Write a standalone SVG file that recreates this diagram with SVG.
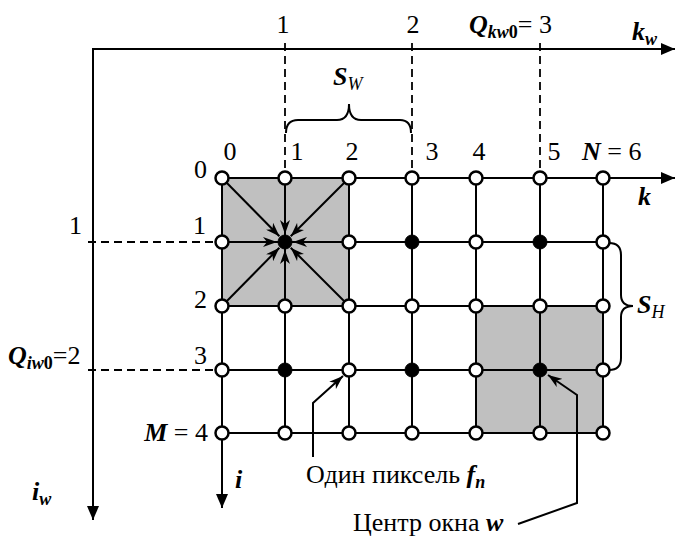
<svg xmlns="http://www.w3.org/2000/svg" width="677" height="538" viewBox="0 0 677 538">
<style>
text{font-family:"Liberation Serif","Times New Roman",serif;font-size:26px;fill:#000}
.bi{font-weight:bold;font-style:italic}
.it{font-style:italic}
.b{font-weight:bold}
.sub{font-size:18px}
.ln{stroke:#000;stroke-width:2;fill:none}
.ds{stroke:#000;stroke-width:1.8;fill:none;stroke-dasharray:8,5}
.o{fill:#fff;stroke:#000;stroke-width:2.5}
.f{fill:#000;stroke:#000;stroke-width:1}
.sh{fill:#c0c0c0;stroke:none}
</style>
<defs>
<marker id="ah" viewBox="0 0 14 10" refX="14" refY="5" markerWidth="14" markerHeight="10" orient="auto" markerUnits="userSpaceOnUse"><path d="M0,0 L14,5 L0,10 L4,5 z" fill="#000"/></marker>
<marker id="ax" viewBox="0 0 14 12" refX="14" refY="6" markerWidth="14" markerHeight="12" orient="auto" markerUnits="userSpaceOnUse"><path d="M0,0 L14,6 L0,12 z" fill="#000"/></marker>
</defs>
<g id="shading">
<rect class="sh" x="222" y="178" width="127" height="128"/>
<rect class="sh" x="476" y="306" width="127" height="127"/>
</g>
<g id="connectors">
<path class="ln" d="M93,49 L675,49" marker-end="url(#ax)"/>
<path class="ln" d="M93,48 L93,520" marker-end="url(#ax)"/>
<path class="ds" d="M285,43 L285,178 M412,43 L412,178 M540,43 L540,178"/>
<path class="ds" d="M88,242 L222,242 M88,370 L222,370"/>
<path class="ln" d="M222,178 L675,178" marker-end="url(#ax)"/>
<path class="ln" d="M222,178 L222,508" marker-end="url(#ax)"/>
<path class="ln" d="M222,242 H603 M222,306 H603 M222,370 H603 M222,433 H603"/>
<path class="ln" d="M285,178 V433 M349,178 V433 M412,178 V433 M476,178 V433 M540,178 V433 M603,178 V433"/>
<path class="ln" d="M222,178 L279.4,236.3" marker-end="url(#ah)"/>
<path class="ln" d="M285,178 L285,234" marker-end="url(#ah)"/>
<path class="ln" d="M349,178 L290.7,236.3" marker-end="url(#ah)"/>
<path class="ln" d="M222,242 L277,242" marker-end="url(#ah)"/>
<path class="ln" d="M349,242 L293,242" marker-end="url(#ah)"/>
<path class="ln" d="M222,306 L279.4,247.7" marker-end="url(#ah)"/>
<path class="ln" d="M285,306 L285,250" marker-end="url(#ah)"/>
<path class="ln" d="M349,306 L290.7,247.7" marker-end="url(#ah)"/>
<path class="ln" d="M313,457 L313,403 L343,376" marker-end="url(#ah)"/>
<path class="ln" d="M518,524 L577,503 L577,395 L548,375" marker-end="url(#ah)"/>
<path class="ln" d="M286,133 Q286,120 298,120 L337,120 Q349,120 349,104 Q349,120 361,120 L400,120 Q411,120 411,133"/>
<path class="ln" d="M609,243 Q621,243 621,255 L621,295 Q621,306 633,306 Q621,306 621,317 L621,358 Q621,370 609,370"/>
</g>
<g id="nodes">
<circle class="o" cx="222" cy="178" r="6.5"/><circle class="o" cx="285" cy="178" r="6.5"/><circle class="o" cx="349" cy="178" r="6.5"/><circle class="o" cx="412" cy="178" r="6.5"/><circle class="o" cx="476" cy="178" r="6.5"/><circle class="o" cx="540" cy="178" r="6.5"/><circle class="o" cx="603" cy="178" r="6.5"/>
<circle class="o" cx="222" cy="242" r="6.5"/><circle class="f" cx="285" cy="242" r="7"/><circle class="o" cx="349" cy="242" r="6.5"/><circle class="f" cx="412" cy="242" r="7"/><circle class="o" cx="476" cy="242" r="6.5"/><circle class="f" cx="540" cy="242" r="7"/><circle class="o" cx="603" cy="242" r="6.5"/>
<circle class="o" cx="222" cy="306" r="6.5"/><circle class="o" cx="285" cy="306" r="6.5"/><circle class="o" cx="349" cy="306" r="6.5"/><circle class="o" cx="412" cy="306" r="6.5"/><circle class="o" cx="476" cy="306" r="6.5"/><circle class="o" cx="540" cy="306" r="6.5"/><circle class="o" cx="603" cy="306" r="6.5"/>
<circle class="o" cx="222" cy="370" r="6.5"/><circle class="f" cx="285" cy="370" r="7"/><circle class="o" cx="349" cy="370" r="6.5"/><circle class="f" cx="412" cy="370" r="7"/><circle class="o" cx="476" cy="370" r="6.5"/><circle class="f" cx="540" cy="370" r="7"/><circle class="o" cx="603" cy="370" r="6.5"/>
<circle class="o" cx="222" cy="433" r="6.5"/><circle class="o" cx="285" cy="433" r="6.5"/><circle class="o" cx="349" cy="433" r="6.5"/><circle class="o" cx="412" cy="433" r="6.5"/><circle class="o" cx="476" cy="433" r="6.5"/><circle class="o" cx="540" cy="433" r="6.5"/><circle class="o" cx="603" cy="433" r="6.5"/>
</g>
<g id="labels">
<text x="283" y="33" text-anchor="middle">1</text>
<text x="413" y="33" text-anchor="middle">2</text>
<text x="552" y="33" text-anchor="end"><tspan class="bi">Q</tspan><tspan class="bi sub" dy="5">kw</tspan><tspan class="b sub">0</tspan><tspan dy="-5">= 3</tspan></text>
<text x="632" y="40"><tspan class="bi">k</tspan><tspan class="bi sub" dy="5">w</tspan></text>
<text x="333" y="85"><tspan class="bi">S</tspan><tspan class="it sub" dy="5">W</tspan></text>
<text x="230" y="160" text-anchor="middle">0</text>
<text x="297" y="160" text-anchor="middle">1</text>
<text x="352" y="160" text-anchor="middle">2</text>
<text x="432" y="160" text-anchor="middle">3</text>
<text x="479" y="160" text-anchor="middle">4</text>
<text x="554" y="160" text-anchor="middle">5</text>
<text x="582" y="160"><tspan class="bi">N</tspan> = 6</text>
<text x="207" y="178" text-anchor="end">0</text>
<text x="206" y="234" text-anchor="end">1</text>
<text x="207" y="308" text-anchor="end">2</text>
<text x="207" y="364" text-anchor="end">3</text>
<text x="208" y="441" text-anchor="end"><tspan class="bi">M</tspan> = 4</text>
<text x="638" y="205" class="bi">k</text>
<text x="637" y="313"><tspan class="bi">S</tspan><tspan class="it sub" dy="5">H</tspan></text>
<text x="82" y="234" text-anchor="end">1</text>
<text x="8" y="364"><tspan class="bi">Q</tspan><tspan class="bi sub" dy="5">iw</tspan><tspan class="b sub">0</tspan><tspan dy="-5">=2</tspan></text>
<text x="235" y="488" class="bi">i</text>
<text x="32" y="500"><tspan class="bi">i</tspan><tspan class="bi sub" dy="5">w</tspan></text>
<text x="306" y="483">Один пиксель <tspan class="bi">f</tspan><tspan class="bi sub" dy="5">n</tspan></text>
<text x="353" y="531">Центр окна <tspan class="bi">w</tspan></text>
</g>
</svg>
